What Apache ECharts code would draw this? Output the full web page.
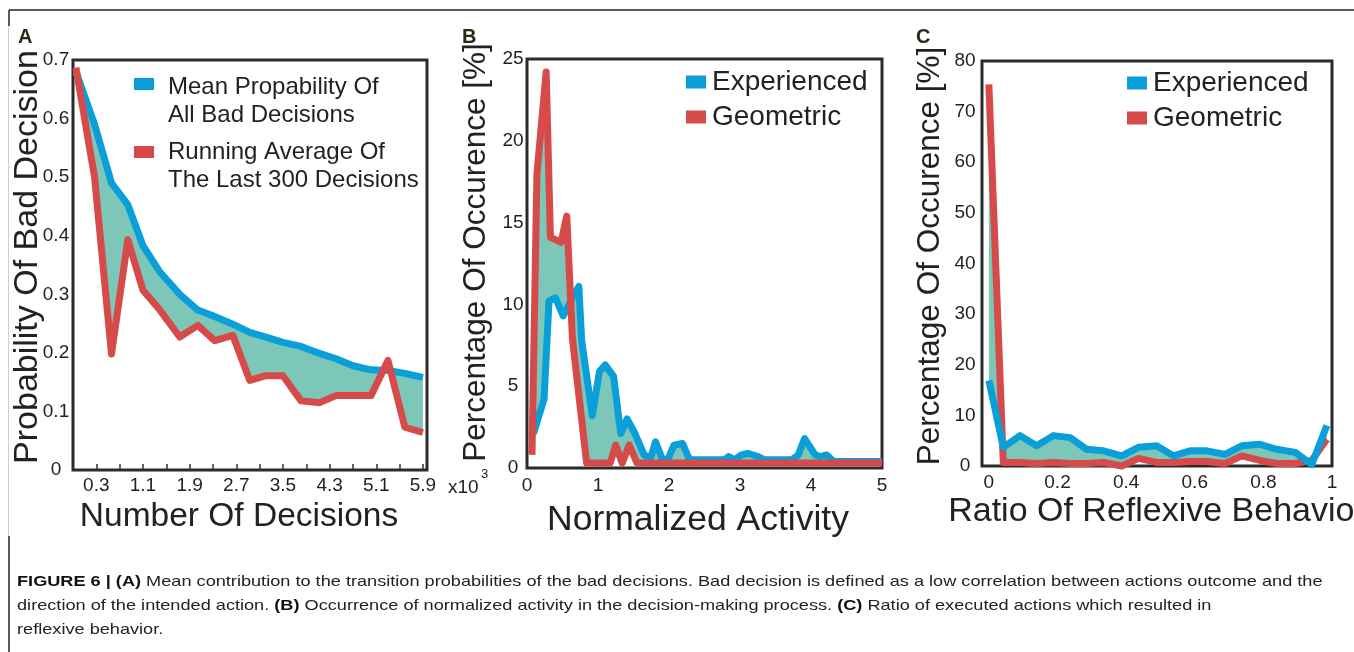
<!DOCTYPE html>
<html><head><meta charset="utf-8">
<script src="https://cdn.jsdelivr.net/npm/echarts@6/dist/echarts.min.js"></script>
<style>html,body{margin:0;padding:0;background:#fff}#c{width:1354px;height:652px}</style>
</head><body><div id="c"></div>
<script>
// ---------- Panel A data ----------
const aX = [-0.05, 0.27, 0.56, 0.84, 1.10, 1.39, 1.73, 2.04, 2.33, 2.64, 2.93, 3.21, 3.50, 3.81, 4.13, 4.41, 4.70, 5.01, 5.30, 5.59, 5.90];
const aMean = [0.68, 0.59, 0.49, 0.453, 0.383, 0.338, 0.30, 0.273, 0.262, 0.249, 0.235, 0.227, 0.218, 0.211, 0.199, 0.19, 0.178, 0.171, 0.17, 0.165, 0.158];
const aRunning = [0.687, 0.50, 0.198, 0.393, 0.307, 0.273, 0.227, 0.247, 0.221, 0.23, 0.153, 0.161, 0.161, 0.118, 0.115, 0.127, 0.127, 0.127, 0.187, 0.073, 0.064];
const aTicks = [0.3, 0.7, 1.1, 1.5, 1.9, 2.3, 2.7, 3.1, 3.5, 3.9, 4.3, 4.7, 5.1, 5.5, 5.9];
const aTickLabels = [0.3, 1.1, 1.9, 2.7, 3.5, 4.3, 5.1, 5.9];

// ---------- Panel B data ----------
const bExpX = [0.09, 0.24, 0.31, 0.40, 0.51, 0.58, 0.73, 0.77, 0.92, 1.02, 1.10, 1.22, 1.32, 1.41, 1.51, 1.65, 1.74, 1.81, 1.91, 1.98, 2.07, 2.19, 2.29, 2.78, 2.84, 2.92, 3.02, 3.11, 3.25, 3.35, 3.73, 3.82, 3.91, 4.06, 4.13, 4.22, 4.32, 5.0];
const bExpY = [2.1, 4.2, 10.2, 10.4, 9.3, 9.9, 11.1, 7.8, 3.2, 5.9, 6.3, 5.6, 2.1, 3.0, 2.2, 0.8, 0.6, 1.6, 0.5, 0.5, 1.4, 1.5, 0.5, 0.5, 0.7, 0.5, 0.8, 0.9, 0.7, 0.5, 0.5, 0.8, 1.8, 0.8, 0.7, 0.8, 0.4, 0.4];
const bGeoX = [0.07, 0.14, 0.27, 0.33, 0.48, 0.56, 0.64, 0.84, 1.17, 1.25, 1.34, 1.44, 1.55, 5.0];
const bGeoY = [0.8, 18.0, 24.2, 14.1, 13.8, 15.4, 7.9, 0.3, 0.3, 1.4, 0.3, 1.4, 0.3, 0.3];

// ---------- Panel C data ----------
const cX = [0, 0.042, 0.091, 0.139, 0.188, 0.237, 0.285, 0.334, 0.387, 0.436, 0.489, 0.538, 0.586, 0.635, 0.688, 0.737, 0.79, 0.839, 0.893, 0.941, 0.985];
const cExp = [16.9, 3.7, 6.0, 4.0, 6.0, 5.6, 3.3, 3.0, 2.0, 3.7, 4.0, 2.0, 3.0, 3.0, 2.3, 4.0, 4.3, 3.3, 2.7, 0.3, 8.0];
const cGeo = [75.4, 0.7, 0.7, 0.5, 0.7, 0.5, 0.5, 0.7, 0.0, 1.5, 0.7, 0.7, 0.9, 0.9, 0.5, 2.0, 1.1, 0.5, 0.5, 1.1, 5.3];
const cTickLabels = [0, 0.2, 0.4, 0.6, 0.8, 1];

// ---------- Caption ----------
const captionLines = [
  ['FIGURE 6 | (A)', ' Mean contribution to the transition probabilities of the bad decisions. Bad decision is defined as a low correlation between actions outcome and the'],
  ['', 'direction of the intended action. ', '(B)', ' Occurrence of normalized activity in the decision-making process. ', '(C)', ' Ratio of executed actions which resulted in'],
  ['', 'reflexive behavior.']
];

const FONT = '"Liberation Sans", Arial, Helvetica, sans-serif';
const BLUE = '#0a9fd9', RED = '#d64a4a', TEAL = '#7cc7b8', INK = '#222', FRAME = '#2b2b2b';

const chart = echarts.init(document.getElementById('c'), null, {renderer: 'canvas'});

function band(gi, xb, yb, xr, yr) {
  return {
    type: 'custom', xAxisIndex: gi, yAxisIndex: gi, data: [[xb[0], yb[0]]],
    clip: true, silent: true, z: 1,
    renderItem: function (params, api) {
      const pts = [];
      for (let i = 0; i < xb.length; i++) pts.push(api.coord([xb[i], yb[i]]));
      for (let i = xr.length - 1; i >= 0; i--) pts.push(api.coord([xr[i], yr[i]]));
      return {type: 'polygon', shape: {points: pts}, style: {fill: TEAL}};
    }
  };
}
function line(name, gi, xs, ys, color, z) {
  return {
    type: 'line', name: name, xAxisIndex: gi, yAxisIndex: gi,
    data: xs.map((x, i) => [x, ys[i]]),
    showSymbol: false, symbol: 'none', clip: false, z: z, silent: true,
    lineStyle: {color: color, width: 7, join: 'round', cap: 'butt'},
    itemStyle: {color: color}, emphasis: {disabled: true}
  };
}
const lbl = (extra) => Object.assign({fontSize: 19, color: INK, fontFamily: FONT}, extra);
const nameStyle = (size, pad) => ({fontSize: size, color: INK, fontFamily: FONT, padding: pad});
const gridBox = {show: true, borderColor: FRAME, borderWidth: 3, backgroundColor: 'transparent', containLabel: false, outerBoundsMode: 'none'};
const legendText = {fontSize: 28, color: INK, fontFamily: FONT, lineHeight: 30, padding: [0, 0, 0, 1]};
const capRich = {b: {fontWeight: 'bold', fontSize: 15, fontFamily: FONT, fill: '#111'}};
const plainAxis = {splitLine: {show: false}, axisLine: {show: false}, nameMoveOverlap: false};

const option = {
  animation: false,
  backgroundColor: '#fff',
  grid: [
    Object.assign({left: 73, top: 60, width: 354, height: 410}, gridBox),
    Object.assign({left: 527, top: 59, width: 355, height: 409}, gridBox),
    Object.assign({left: 982, top: 61, width: 350, height: 405}, gridBox)
  ],
  xAxis: [
    Object.assign({gridIndex: 0, type: 'value', min: -0.1, max: 5.97,
     axisTick: {show: true, inside: true, length: 6, customValues: aTicks, lineStyle: {color: '#333', width: 1.5}},
     axisLabel: lbl({customValues: aTickLabels, margin: 6}),
     name: 'Number Of Decisions', nameLocation: 'middle', nameGap: 30, nameTextStyle: nameStyle(33.5, [0, 22, 0, 0])}, plainAxis),
    Object.assign({gridIndex: 1, type: 'value', min: 0, max: 5, interval: 1, axisTick: {show: false},
     axisLabel: lbl({margin: 8}),
     name: 'Normalized Activity', nameLocation: 'middle', nameGap: 34, nameTextStyle: nameStyle(35.5, [0, 13, 0, 0])}, plainAxis),
    Object.assign({gridIndex: 2, type: 'value', min: -0.02, max: 1, interval: 0.02, axisTick: {show: false},
     axisLabel: lbl({customValues: cTickLabels, margin: 7}),
     name: 'Ratio Of Reflexive Behavior', nameLocation: 'middle', nameGap: 29, nameTextStyle: nameStyle(34, [0, 0, 0, 0])}, plainAxis)
  ],
  yAxis: [
    Object.assign({gridIndex: 0, type: 'value', min: 0, max: 0.7, interval: 0.1, axisTick: {show: false},
     axisLabel: lbl({align: 'center', margin: 17}),
     name: 'Probability Of Bad Decision', nameLocation: 'middle', nameGap: 28, nameTextStyle: nameStyle(34, [0, 0, 0, 16])}, plainAxis),
    Object.assign({gridIndex: 1, type: 'value', min: 0, max: 25, interval: 5, axisTick: {show: false},
     axisLabel: lbl({align: 'center', margin: 14}),
     name: 'Percentage Of Occurence [%]', nameLocation: 'middle', nameGap: 35, nameTextStyle: nameStyle(31.5, [0, 0, 0, 22])}, plainAxis),
    Object.assign({gridIndex: 2, type: 'value', min: 0, max: 80, interval: 10, axisTick: {show: false},
     axisLabel: lbl({align: 'center', margin: 17}),
     name: 'Percentage Of Occurence [%]', nameLocation: 'middle', nameGap: 36, nameTextStyle: nameStyle(31.5, [0, 0, 0, 15])}, plainAxis)
  ],
  legend: [
    {data: ['Experienced', 'Geometric'], orient: 'vertical', left: 681, top: 62, itemWidth: 20, itemHeight: 13, itemGap: 5,
     icon: 'rect', selectedMode: false, textStyle: legendText},
    {data: ['Experienced', 'Geometric'], orient: 'vertical', left: 1122, top: 63, itemWidth: 20, itemHeight: 13, itemGap: 5,
     icon: 'rect', selectedMode: false, textStyle: legendText}
  ],
  series: [
    band(0, aX, aMean, aX, aRunning),
    line('Mean Propability Of All Bad Decisions', 0, aX, aMean, BLUE, 3),
    line('Running Average Of The Last 300 Decisions', 0, aX, aRunning, RED, 4),
    band(1, bExpX, bExpY, bGeoX, bGeoY),
    line('Experienced', 1, bExpX, bExpY, BLUE, 3),
    line('Geometric', 1, bGeoX, bGeoY, RED, 4),
    band(2, cX, cExp, cX, cGeo),
    line('Geometric', 2, cX, cGeo, RED, 3),
    line('Experienced', 2, cX, cExp, BLUE, 4)
  ],
  graphic: [
    // figure frame
    {type: 'line', shape: {x1: 9, y1: 10, x2: 1354, y2: 10}, style: {stroke: '#222', lineWidth: 1.5}, silent: true},
    {type: 'line', shape: {x1: 9, y1: 10, x2: 9, y2: 26}, style: {stroke: '#222', lineWidth: 1.5}, silent: true},
    {type: 'line', shape: {x1: 8.5, y1: 26, x2: 8.5, y2: 536}, style: {stroke: '#cfcfcf', lineWidth: 1}, silent: true},
    {type: 'line', shape: {x1: 9, y1: 536, x2: 9, y2: 652}, style: {stroke: '#222', lineWidth: 1.5}, silent: true},
    // panel letters
    {type: 'text', left: 18, top: 27, style: {text: 'A', font: 'bold 20px ' + FONT, fill: '#2a2a14'}, silent: true},
    {type: 'text', left: 462, top: 27, style: {text: 'B', font: 'bold 20px ' + FONT, fill: '#2a2a14'}, silent: true},
    {type: 'text', left: 916, top: 27, style: {text: 'C', font: 'bold 20px ' + FONT, fill: '#2a2a14'}, silent: true},
    // x10^3 multiplier of panel A x axis
    {type: 'text', left: 448, top: 478, style: {text: 'x10', font: '19px ' + FONT, fill: INK}, silent: true},
    {type: 'text', left: 481, top: 468, style: {text: '3', font: '13px ' + FONT, fill: INK}, silent: true},
    // legend A
    {type: 'rect', shape: {x: 134, y: 78, width: 20, height: 12}, style: {fill: BLUE}, silent: true},
    {type: 'text', left: 168, top: 73, style: {text: 'Mean Propability Of\nAll Bad Decisions', font: '24px ' + FONT, fill: INK, lineHeight: 28}, silent: true},
    {type: 'rect', shape: {x: 134, y: 146, width: 20, height: 12}, style: {fill: RED}, silent: true},
    {type: 'text', left: 168, top: 138, style: {text: 'Running Average Of\nThe Last 300 Decisions', font: '24px ' + FONT, fill: INK, lineHeight: 28}, silent: true},
    // caption (reference type is horizontally stretched)
    {type: 'text', x: 17, y: 574, scaleX: 1.21, style: {text: '{b|' + captionLines[0][0] + '}' + captionLines[0][1], font: '15px ' + FONT, fill: INK, rich: capRich}, silent: true},
    {type: 'text', x: 17, y: 598, scaleX: 1.21, style: {text: captionLines[1][1] + '{b|' + captionLines[1][2] + '}' + captionLines[1][3] + '{b|' + captionLines[1][4] + '}' + captionLines[1][5], font: '15px ' + FONT, fill: INK, rich: capRich}, silent: true},
    {type: 'text', x: 17, y: 622, scaleX: 1.21, style: {text: captionLines[2][1], font: '15px ' + FONT, fill: INK}, silent: true}
  ]
};
chart.setOption(option);
</script>
</body></html>
